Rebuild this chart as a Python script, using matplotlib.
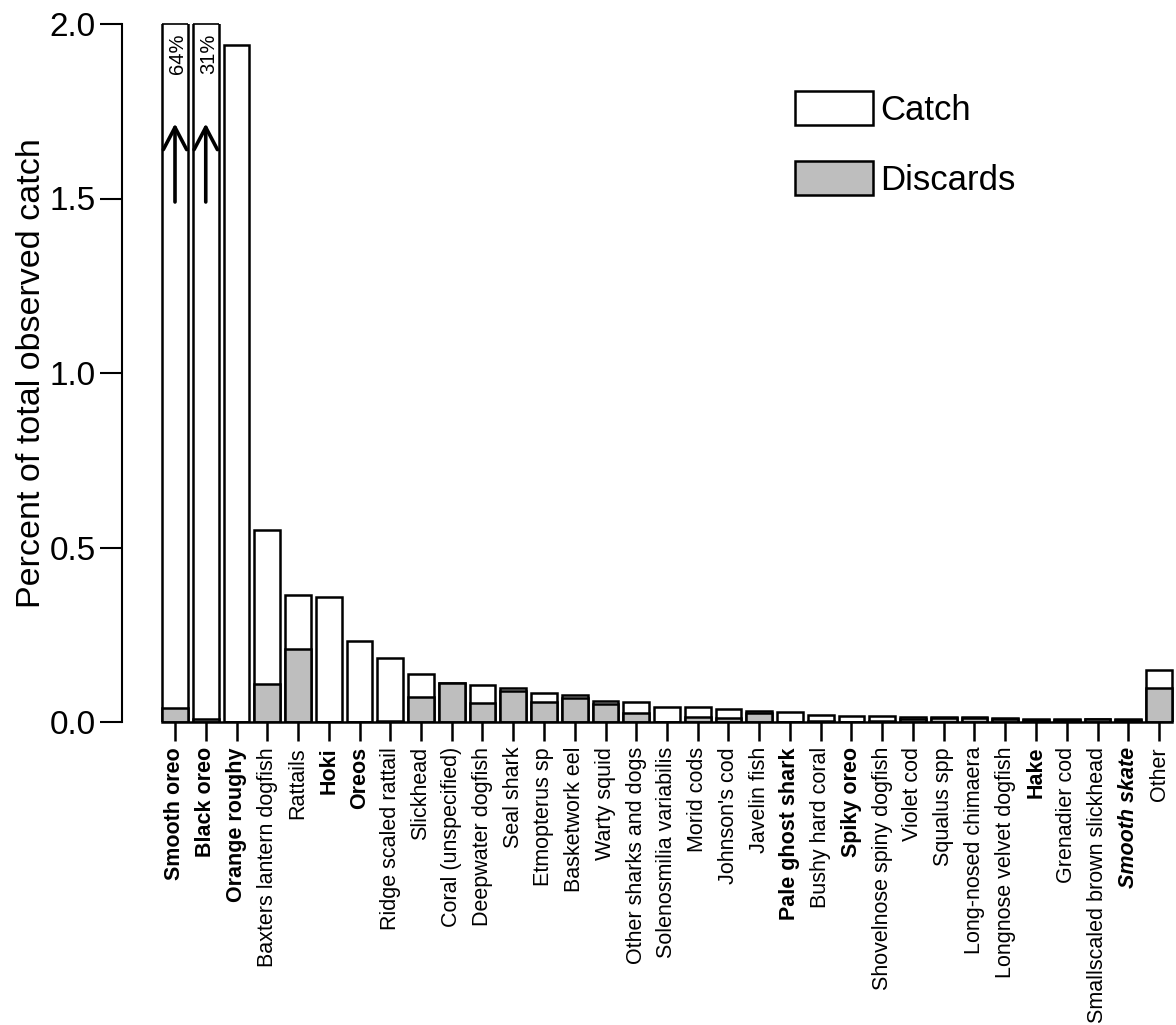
import matplotlib
matplotlib.use('Agg')
import matplotlib.pyplot as plt
from matplotlib.patches import Patch
import numpy as np

plt.rcParams['font.family'] = ['Liberation Sans', 'DejaVu Sans']

# species (bold ones are target / commercial species)
species = ['Smooth oreo', 'Black oreo', 'Orange roughy', 'Baxters lantern dogfish',
           'Rattails', 'Hoki', 'Oreos', 'Ridge scaled rattail', 'Slickhead',
           'Coral (unspecified)', 'Deepwater dogfish', 'Seal shark', 'Etmopterus sp',
           'Basketwork eel', 'Warty squid', 'Other sharks and dogs',
           'Solenosmilia variabilis', 'Morid cods', "Johnson's cod", 'Javelin fish',
           'Pale ghost shark', 'Bushy hard coral', 'Spiky oreo',
           'Shovelnose spiny dogfish', 'Violet cod', 'Squalus spp',
           'Long-nosed chimaera', 'Longnose velvet dogfish', 'Hake', 'Grenadier cod',
           'Smallscaled brown slickhead', 'Smooth skate', 'Other']
bold_species = ['Smooth oreo', 'Black oreo', 'Orange roughy', 'Hoki', 'Oreos',
                'Pale ghost shark', 'Spiky oreo', 'Hake', 'Smooth skate']
italic_species = ['Smooth skate']

# percent of total observed catch
catch = [64, 31, 1.94, 0.55, 0.364, 0.357, 0.232, 0.184, 0.138, 0.111, 0.105,
         0.098, 0.084, 0.077, 0.060, 0.056, 0.042, 0.042, 0.036, 0.032, 0.028,
         0.020, 0.018, 0.017, 0.014, 0.013, 0.013, 0.012, 0.010, 0.010, 0.010,
         0.010, 0.149]
discards = [0.039, 0.008, 0.0, 0.109, 0.208, 0.0, 0.0, 0.002, 0.073, 0.111, 0.054,
            0.090, 0.058, 0.068, 0.052, 0.027, 0.0, 0.015, 0.011, 0.025, 0.0,
            0.004, 0.0, 0.004, 0.010, 0.011, 0.011, 0.009, 0.007, 0.007, 0.010,
            0.007, 0.098]

ymax = 2.0
W, H = 1176, 1025
fig = plt.figure(figsize=(W / 100, H / 100), dpi=100)

# axes placed so the y spine sits left of the first bar (like R's barplot)
left_px, right_px, top_px, bottom_px = 122, 1176, 24, 722
ax = fig.add_axes([left_px / W, 1 - bottom_px / H,
                   (right_px - left_px) / W, (bottom_px - top_px) / H])

x = np.arange(len(species))
spacing = 30.75
ax.set_xlim((left_px - 175) / spacing, (right_px - 175) / spacing)
ax.set_ylim(0, ymax)

bw = 0.83
lw = 1.8
ax.bar(x, catch, width=bw, color='white', edgecolor='black', linewidth=lw, zorder=2)
ax.bar(x, discards, width=bw, color='#bebebe', edgecolor='black', linewidth=lw, zorder=3)

# bars running off the top: cap line + arrow + percent label
for i, v in enumerate(catch):
    if v > ymax:
        ax.hlines(ymax, i - bw / 2, i + bw / 2, color='black', lw=1.2, zorder=4,
                  clip_on=False)
        ax.annotate('', xy=(i, 1.715), xytext=(i, 1.49),
                    arrowprops=dict(arrowstyle='->,head_length=0.8,head_width=0.42',
                                    lw=2.6, color='black', shrinkA=0, shrinkB=0,
                                    mutation_scale=20), zorder=5)
        ax.text(i + 0.08, 1.915, f'{v:.0f}%', rotation=90, ha='center', va='center',
                fontsize=14.5, zorder=5)

# axes styling
for s in ['top', 'right']:
    ax.spines[s].set_visible(False)
ax.spines['left'].set_bounds(0, ymax)
ax.spines['left'].set_linewidth(1.5)
ax.spines['bottom'].set_bounds(-bw / 2, len(species) - 1 + bw / 2)
ax.spines['bottom'].set_linewidth(1.8)
ax.spines['bottom'].set_zorder(4)

ax.set_yticks([0.0, 0.5, 1.0, 1.5, 2.0])
ax.set_yticklabels(['0.0', '0.5', '1.0', '1.5', '2.0'])
ax.tick_params(axis='y', length=16, width=1.5, pad=3, labelsize=24)
ax.set_ylabel('Percent of total observed catch', fontsize=24.5, labelpad=2)

ax.set_xticks(x)
ax.set_xticklabels(species, rotation=90, fontsize=15.5)
ax.tick_params(axis='x', length=14, width=1.8, pad=4)
for lab in ax.get_xticklabels():
    name = lab.get_text()
    if name in bold_species:
        lab.set_fontweight('bold')
    if name in italic_species:
        lab.set_fontstyle('italic')

handles = [Patch(facecolor='white', edgecolor='black', linewidth=lw, label='Catch'),
           Patch(facecolor='#bebebe', edgecolor='black', linewidth=lw, label='Discards')]
fig.legend(handles=handles, loc='upper left', bbox_to_anchor=(795 / W, 1 - 91 / H),
           frameon=False, fontsize=25, handlelength=2.25, handleheight=1.15,
           handletextpad=0.2, labelspacing=0.98, borderpad=0, borderaxespad=0)

fig.savefig('out.png', dpi=100)
